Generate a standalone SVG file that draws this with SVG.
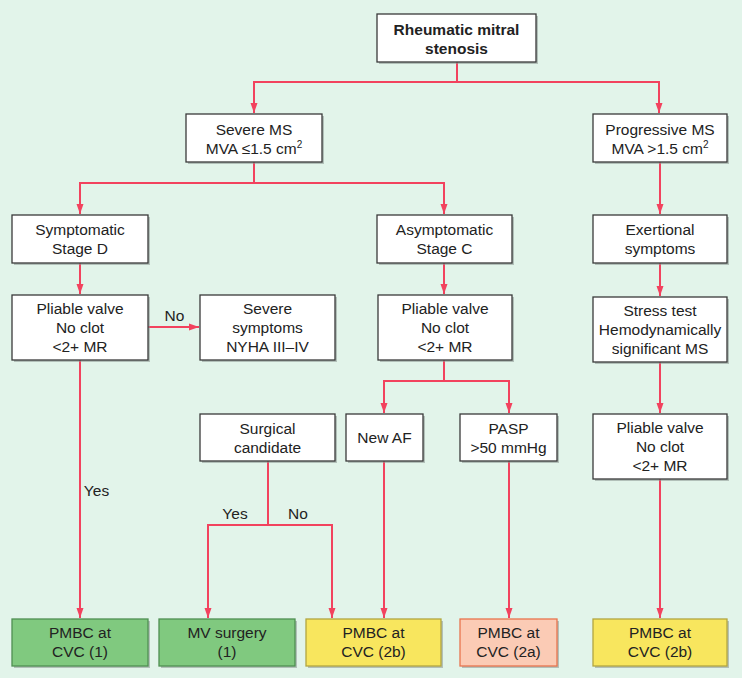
<svg xmlns="http://www.w3.org/2000/svg" width="742" height="678" viewBox="0 0 742 678">
<defs>
<style>
.bg{fill:#e2f4ea}
.box{fill:#ffffff;stroke:#3a3a3a;stroke-width:1.3}
.sh{fill:#8a9690;opacity:0.55}
.green{fill:#80c97f;stroke:#4f8f52;stroke-width:1.3}
.yellow{fill:#f8e65e;stroke:#b2a640;stroke-width:1.3}
.salmon{fill:#fbcbb5;stroke:#e8744e;stroke-width:1.3}
text{font-family:"Liberation Sans",Arial,sans-serif;font-size:15.5px;fill:#222;text-anchor:middle}
.b{font-weight:bold}
.lbl{text-anchor:middle}
.c{fill:none;stroke:#f2425e;stroke-width:2}
.sup{font-size:10px}
</style>
<marker id="ah" markerWidth="10" markerHeight="8" refX="10" refY="4" orient="auto" markerUnits="userSpaceOnUse">
<path d="M0,0.5 L10,4 L0,7.5 Z" fill="#f2425e"/>
</marker>
</defs>
<rect class="bg" x="0" y="0" width="742" height="678"/>

<g id="connectors">
<path class="c" d="M457 62 V82 H254 V113" marker-end="url(#ah)"/>
<path class="c" d="M457 82 H659 V113" marker-end="url(#ah)"/>
<path class="c" d="M254 162 V183 H80 V214" marker-end="url(#ah)"/>
<path class="c" d="M254 183 H444 V214" marker-end="url(#ah)"/>
<path class="c" d="M660 162 V214" marker-end="url(#ah)"/>
<path class="c" d="M80 263 V294" marker-end="url(#ah)"/>
<path class="c" d="M444 263 V294" marker-end="url(#ah)"/>
<path class="c" d="M660 263 V296" marker-end="url(#ah)"/>
<path class="c" d="M660 362 V413" marker-end="url(#ah)"/>
<path class="c" d="M148 327 H199" marker-end="url(#ah)"/>
<path class="c" d="M80 360 V618" marker-end="url(#ah)"/>
<path class="c" d="M444 360 V381 H384 V413" marker-end="url(#ah)"/>
<path class="c" d="M444 381 H509 V413" marker-end="url(#ah)"/>
<path class="c" d="M384 461 V618" marker-end="url(#ah)"/>
<path class="c" d="M509 461 V618" marker-end="url(#ah)"/>
<path class="c" d="M268 461 V525 H208 V618" marker-end="url(#ah)"/>
<path class="c" d="M268 525 H332 V618" marker-end="url(#ah)"/>
<path class="c" d="M660 479 V618" marker-end="url(#ah)"/>
<text x="174.5" y="320.5">No</text>
<text x="96.5" y="495.5">Yes</text>
<text x="235" y="518.5">Yes</text>
<text x="298" y="518.5">No</text>
</g>

<g id="n-rms">
<rect class="sh" x="379" y="16" width="159" height="48"/>
<rect class="box" x="377" y="14" width="159" height="48"/>
<text class="b" x="456.5" y="34.5">Rheumatic mitral</text>
<text class="b" x="456.5" y="53.5">stenosis</text>
</g>

<g id="n-severe">
<rect class="sh" x="188" y="116" width="136" height="48"/>
<rect class="box" x="186" y="114" width="136" height="48"/>
<text x="254" y="135">Severe MS</text>
<text x="254" y="154">MVA ≤1.5 cm<tspan class="sup" dy="-6">2</tspan></text>
</g>

<g id="n-progressive">
<rect class="sh" x="595" y="116" width="134" height="48"/>
<rect class="box" x="593" y="114" width="134" height="48"/>
<text x="660" y="135">Progressive MS</text>
<text x="660" y="154">MVA &gt;1.5 cm<tspan class="sup" dy="-6">2</tspan></text>
</g>

<g id="n-symptomatic">
<rect class="sh" x="14" y="217" width="136" height="48"/>
<rect class="box" x="12" y="215" width="136" height="48"/>
<text x="80" y="235">Symptomatic</text>
<text x="80" y="254">Stage D</text>
</g>

<g id="n-asymptomatic">
<rect class="sh" x="379" y="217" width="135" height="48"/>
<rect class="box" x="377" y="215" width="135" height="48"/>
<text x="444.5" y="235">Asymptomatic</text>
<text x="444.5" y="254">Stage C</text>
</g>

<g id="n-exertional">
<rect class="sh" x="595" y="217" width="134" height="48"/>
<rect class="box" x="593" y="215" width="134" height="48"/>
<text x="660" y="235">Exertional</text>
<text x="660" y="254">symptoms</text>
</g>

<g id="n-pliable1">
<rect class="sh" x="14" y="297" width="136" height="65"/>
<rect class="box" x="12" y="295" width="136" height="65"/>
<text x="80" y="313.5">Pliable valve</text>
<text x="80" y="332.5">No clot</text>
<text x="80" y="351.5">&lt;2+ MR</text>
</g>

<g id="n-severesym">
<rect class="sh" x="202" y="297" width="135" height="65"/>
<rect class="box" x="200" y="295" width="135" height="65"/>
<text x="267.5" y="313.5">Severe</text>
<text x="267.5" y="332.5">symptoms</text>
<text x="267.5" y="351.5">NYHA III–IV</text>
</g>

<g id="n-pliable2">
<rect class="sh" x="380" y="297" width="134" height="65"/>
<rect class="box" x="378" y="295" width="134" height="65"/>
<text x="445" y="313.5">Pliable valve</text>
<text x="445" y="332.5">No clot</text>
<text x="445" y="351.5">&lt;2+ MR</text>
</g>

<g id="n-stress">
<rect class="sh" x="595" y="299" width="134" height="65"/>
<rect class="box" x="593" y="297" width="134" height="65"/>
<text x="660" y="315.5">Stress test</text>
<text x="660" y="334.5">Hemodynamically</text>
<text x="660" y="353.5">significant MS</text>
</g>

<g id="n-surgical">
<rect class="sh" x="202" y="416" width="135" height="47"/>
<rect class="box" x="200" y="414" width="135" height="47"/>
<text x="267.5" y="433.5">Surgical</text>
<text x="267.5" y="452.5">candidate</text>
</g>

<g id="n-newaf">
<rect class="sh" x="348" y="416" width="77" height="47"/>
<rect class="box" x="346" y="414" width="77" height="47"/>
<text x="384.5" y="443">New AF</text>
</g>

<g id="n-pasp">
<rect class="sh" x="462" y="416" width="97" height="47"/>
<rect class="box" x="460" y="414" width="97" height="47"/>
<text x="508.5" y="433.5">PASP</text>
<text x="508.5" y="452.5">&gt;50 mmHg</text>
</g>

<g id="n-pliable3">
<rect class="sh" x="595" y="416" width="134" height="65"/>
<rect class="box" x="593" y="414" width="134" height="65"/>
<text x="660" y="432.5">Pliable valve</text>
<text x="660" y="451.5">No clot</text>
<text x="660" y="470.5">&lt;2+ MR</text>
</g>

<g id="n-pmbc1">
<rect class="sh" x="14" y="621" width="136" height="47"/>
<rect class="green" x="12" y="619" width="136" height="47"/>
<text x="80" y="638">PMBC at</text>
<text x="80" y="657">CVC (1)</text>
</g>

<g id="n-mvsurgery">
<rect class="sh" x="161" y="621" width="136" height="47"/>
<rect class="green" x="159" y="619" width="136" height="47"/>
<text x="227" y="638">MV surgery</text>
<text x="227" y="657">(1)</text>
</g>

<g id="n-pmbc2b-a">
<rect class="sh" x="308" y="621" width="135" height="47"/>
<rect class="yellow" x="306" y="619" width="135" height="47"/>
<text x="373.5" y="638">PMBC at</text>
<text x="373.5" y="657">CVC (2b)</text>
</g>

<g id="n-pmbc2a">
<rect class="sh" x="462" y="621" width="97" height="47"/>
<rect class="salmon" x="460" y="619" width="97" height="47"/>
<text x="508.5" y="638">PMBC at</text>
<text x="508.5" y="657">CVC (2a)</text>
</g>

<g id="n-pmbc2b-b">
<rect class="sh" x="595" y="621" width="134" height="47"/>
<rect class="yellow" x="593" y="619" width="134" height="47"/>
<text x="660" y="638">PMBC at</text>
<text x="660" y="657">CVC (2b)</text>
</g>
</svg>
